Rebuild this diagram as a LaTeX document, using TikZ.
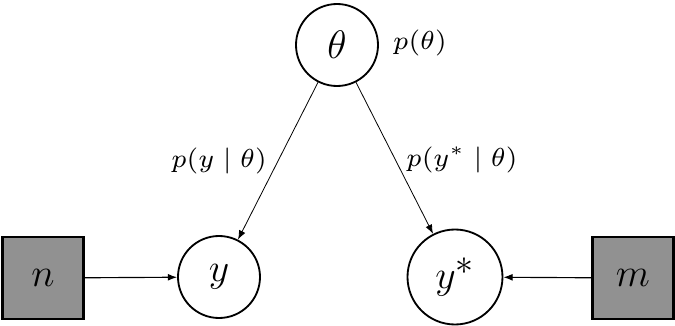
\documentclass[tikz,border=0pt]{standalone}
\usetikzlibrary{arrows.meta}
\definecolor{boxgray}{RGB}{145,145,145}
\newcommand{\biglbl}[1]{\scalebox{1.62}{\scriptsize #1}}
\begin{document}
\begin{tikzpicture}[x=0.435pt,y=-0.435pt,
  latent/.style={circle,draw,line width=0.8pt,minimum size=82*0.435pt,inner sep=1pt,font=\LARGE},
  observed/.style={rectangle,draw,line width=0.9pt,fill=boxgray,minimum width=81*0.435pt,minimum height=82*0.435pt,inner sep=0pt,font=\LARGE},
  thinarrow/.style={-{Latex[length=4pt,width=3pt]},line width=0.35pt},
  sidearrow/.style={-{Latex[length=4pt,width=3pt]},line width=0.5pt},
  lbl/.style={inner sep=1pt}]
\useasboundingbox (0,0) rectangle (675,326);
\node[latent] (theta) at (337,45) {$\theta$};
\node[latent] (y) at (219,277) {$y$};
\node[latent,minimum size=95*0.435pt] (ys) at (455,277) {$y^{\scalebox{1.3}{$\scriptstyle *$}}$};
\node[observed] (n) at (43,278) {$n$};
\node[observed] (m) at (633,278) {$m$};
\node[lbl] (ptheta) at (420,43) {\biglbl{$p(\theta)$}};
\node[lbl] (py) at (219,161) {\biglbl{$p(y\mid\theta)$}};
\node[lbl] (pys) at (462,160) {\biglbl{$p(y^*\mid\theta)$}};
\draw[thinarrow] (theta) -- (y);
\draw[thinarrow] (theta) -- (ys);
\draw[sidearrow] (n) -- (y);
\draw[sidearrow] (m) -- (ys);
\end{tikzpicture}
\end{document}
